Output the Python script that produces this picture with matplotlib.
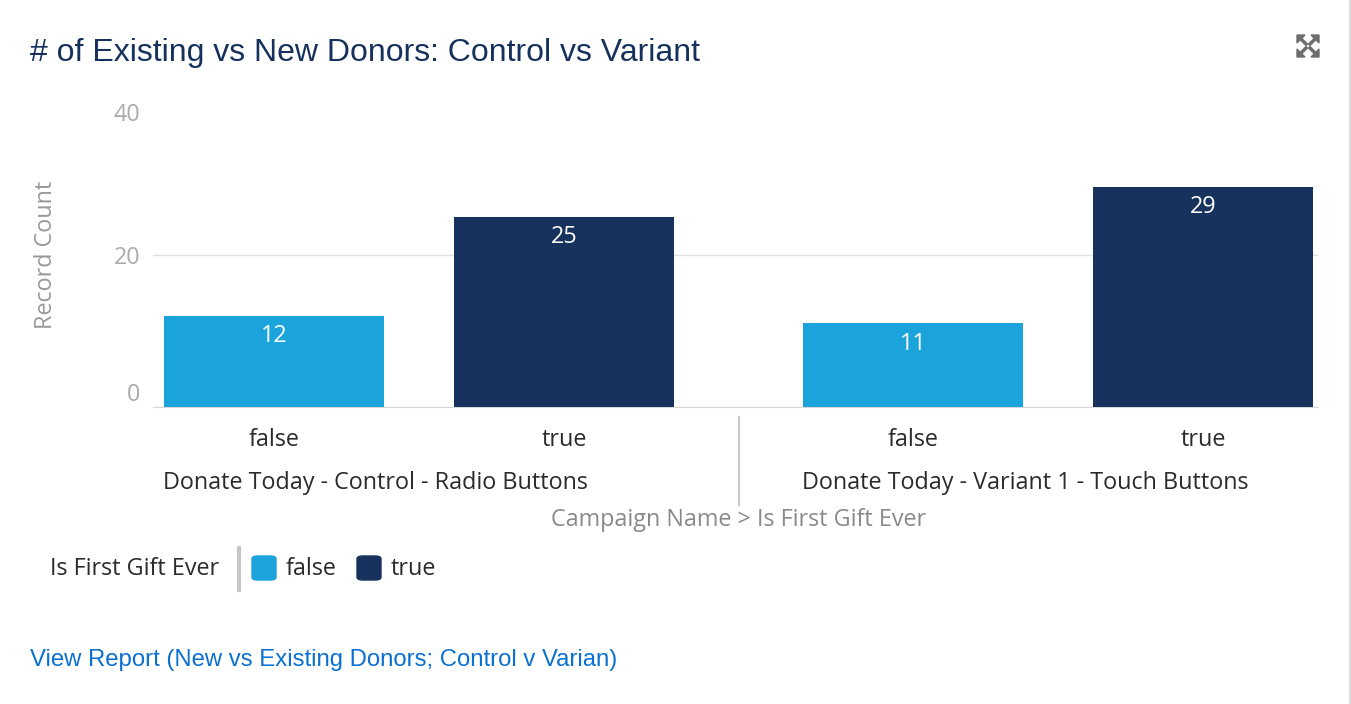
import matplotlib
matplotlib.use("Agg")
import matplotlib.pyplot as plt
from matplotlib.patches import FancyBboxPatch, Polygon
from matplotlib.lines import Line2D

# data
campaigns = ["Donate Today - Control - Radio Buttons", "Donate Today - Variant 1 - Touch Buttons"]
first_gift = ["false", "true"]
counts = {"false": [12, 11], "true": [25, 29]}
colors = {"false": "#1ba3dc", "true": "#17325c"}
yticks = [0, 20, 40]

plt.rcParams['font.family'] = ['Open Sans', 'DejaVu Sans']
FS = 16.8

fig = plt.figure(figsize=(13.51, 7.04), dpi=100)
ax = fig.add_axes([0.1133, 0.4219, 0.8623, 0.4318])

group_gap = 2.2034
width = 0.7586
xpos, xlab = [], []
for g, camp in enumerate(campaigns):
    for k, fg in enumerate(first_gift):
        x = g * group_gap + k
        v = counts[fg][g]
        ax.bar(x, v, width=width, color=colors[fg], zorder=3)
        ax.annotate(str(v), (x, v), xytext=(0, -6), textcoords='offset points',
                    ha='center', va='top', color='white', fontsize=FS)
        xpos.append(x)
        xlab.append(fg)

ax.set_xlim(-0.417, 3.6)
ax.set_ylim(0, 40)
ax.set_xticks(xpos)
ax.set_xticklabels(xlab, fontsize=FS, color='#2b2b2b')
ax.tick_params(axis='x', length=0, pad=15)
ax.set_yticks(yticks)
ax.set_yticklabels([str(t) for t in yticks], fontsize=FS, color='#ababab')
ax.tick_params(axis='y', length=0, pad=9)
tl = ax.get_yticklabels()
tl[0].set_va('bottom')
tl[-1].set_va('top')
ax.yaxis.grid(True, color='#e0e0e0', lw=1, zorder=0)
ax.get_ygridlines()[-1].set_visible(False)
for s in ['top', 'right', 'left']:
    ax.spines[s].set_visible(False)
ax.spines['bottom'].set_color('#d8d8d8')
ax.set_ylabel("Record Count", fontsize=FS, color='#999999', labelpad=40)

# group labels and separator
for g, camp in enumerate(campaigns):
    xl = g * group_gap - width / 2
    ax.annotate(camp, (xl, 0), xycoords=('data', 'axes fraction'), xytext=(-1, -55),
                textcoords='offset points', ha='left', va='center',
                fontsize=FS, color='#2b2b2b')
sep = (1 + group_gap) / 2
ax.plot([sep, sep], [-0.033, -0.322], transform=ax.get_xaxis_transform(),
        color='#c9c9c9', lw=1.5, clip_on=False)
fig.text(739 / 1351, 1 - 520 / 704, "Campaign Name > Is First Gift Ever",
         ha='center', va='center', fontsize=FS, color='#8a8a8a')

# title
fig.text(30 / 1351, 1 - 53 / 704, "# of Existing vs New Donors: Control vs Variant",
         ha='left', va='center', fontsize=23, color='#16325c', fontfamily='Liberation Sans')

# legend
ly = 1 - 569 / 704
fig.text(50 / 1351, ly, "Is First Gift Ever", ha='left', va='center', fontsize=FS, color='#2b2b2b')
fig.add_artist(Line2D([239 / 1351, 239 / 1351], [1 - 548 / 704, 1 - 590 / 704],
                      color='#c6c6c6', lw=3))
lx = 252
for fg in first_gift:
    fig.add_artist(FancyBboxPatch((lx / 1351, 1 - 580 / 704), 24 / 1351, 24 / 704,
                                  boxstyle='round,pad=0,rounding_size=0.004',
                                  color=colors[fg], transform=fig.transFigure))
    fig.text((lx + 34) / 1351, ly, fg, ha='left', va='center', fontsize=FS, color='#2b2b2b')
    lx += 105

# link
fig.text(30 / 1351, 1 - 660 / 704, "View Report (New vs Existing Donors; Control v Varian)",
         ha='left', va='center', fontsize=17.2, color='#0a70d2', fontfamily='Liberation Sans')

# expand icon
cx, cy = 1308, 46
for sx in (-1, 1):
    for sy in (-1, 1):
        tip = (cx + sx * 11, cy + sy * 11)
        pts = [tip, (tip[0] - sx * 8, tip[1]), (tip[0], tip[1] - sy * 8)]
        fig.add_artist(Polygon([(px / 1351, 1 - py / 704) for px, py in pts],
                               closed=True, color='#6e6e6e', transform=fig.transFigure))
        fig.add_artist(Line2D([(cx + sx * 2) / 1351, (cx + sx * 7) / 1351],
                              [1 - (cy + sy * 2) / 704, 1 - (cy + sy * 7) / 704],
                              color='#6e6e6e', lw=2.5))

fig.add_artist(Line2D([0.999, 0.999], [0, 1], color='#dddddd', lw=1.5))

fig.savefig("out.png", dpi=100)
